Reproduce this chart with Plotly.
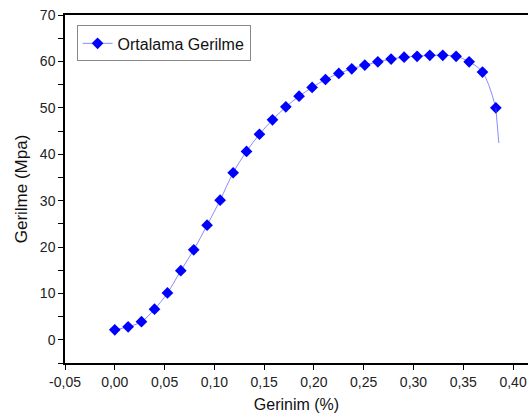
import plotly.graph_objects as go

# Strain (%) and stress (MPa) values
strain = [0.0, 0.0134, 0.0268, 0.0399, 0.0529, 0.0663, 0.0793, 0.0927, 0.1058,
          0.1189, 0.1323, 0.1453, 0.1584, 0.1718, 0.1851, 0.1982, 0.2116, 0.2250,
          0.2380, 0.2511, 0.2642, 0.2775, 0.2906, 0.3036, 0.3164, 0.3294, 0.3428,
          0.3559, 0.3693, 0.3827]
stress = [2.15, 2.8, 3.9, 6.6, 10.1, 14.9, 19.4, 24.7, 30.1,
          36.0, 40.6, 44.3, 47.4, 50.2, 52.5, 54.4, 56.1, 57.4,
          58.4, 59.2, 59.9, 60.5, 60.9, 61.1, 61.3, 61.3, 61.1,
          59.9, 57.7, 50.0]
# final line segment (no marker) after the last measured point
tail_strain = [0.3827, 0.3857]
tail_stress = [50.0, 42.4]

series_name = "Ortalama Gerilme"
x_ticks = [-0.05, 0.0, 0.05, 0.10, 0.15, 0.20, 0.25, 0.30, 0.35, 0.40]
x_tick_labels = ["-0,05", "0,00", "0,05", "0,10", "0,15", "0,20", "0,25", "0,30", "0,35", "0,40"]
y_ticks = [-5, 0, 5, 10, 15, 20, 25, 30, 35, 40, 45, 50, 55, 60, 65, 70]
y_tick_labels = ["", "0", "", "10", "", "20", "", "30", "", "40", "", "50", "", "60", "", "70"]

line_color = "rgba(90,90,255,0.7)"
marker_color = "#0000FF"

fig = go.Figure()
fig.add_trace(go.Scatter(
    x=strain, y=stress, mode="lines+markers", name=series_name,
    line=dict(color=line_color, width=1, shape="spline"),
    marker=dict(symbol="diamond", size=9, color=marker_color),
))
fig.add_trace(go.Scatter(
    x=tail_strain, y=tail_stress, mode="lines", showlegend=False,
    line=dict(color=line_color, width=1),
))

font_family = "Liberation Sans, Arial, sans-serif"
fig.update_layout(
    width=528, height=420,
    margin=dict(l=65, r=0, t=15, b=57),
    paper_bgcolor="white", plot_bgcolor="white",
    font=dict(family=font_family, size=14, color="#222222"),
    showlegend=True,
    legend=dict(
        x=0.025, y=0.97, xanchor="left", yanchor="top",
        bgcolor="white", bordercolor="#888888", borderwidth=1,
        font=dict(size=16, color="#111111"),
        tracegroupgap=0, itemwidth=30,
    ),
    xaxis=dict(
        range=[-0.05, 0.415],
        tickmode="array", tickvals=x_ticks, ticktext=x_tick_labels,
        showgrid=False, zeroline=False,
        showline=True, linecolor="black", linewidth=1.5, mirror=True,
        ticks="outside", ticklen=5, tickwidth=1.2, tickcolor="black",
        title=dict(text="Gerinim (%)", font=dict(size=16, color="#111111"), standoff=10),
    ),
    yaxis=dict(
        range=[-5, 70],
        tickmode="array", tickvals=y_ticks, ticktext=y_tick_labels,
        showgrid=False, zeroline=False,
        showline=True, linecolor="black", linewidth=1.5,
        ticks="outside", ticklen=5, tickwidth=1.2, tickcolor="black",
        title=dict(text="Gerilme (Mpa)", font=dict(size=17, color="#111111"), standoff=8),
    ),
)

fig.write_html("out.html")
